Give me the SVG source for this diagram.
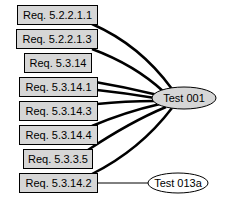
<svg xmlns="http://www.w3.org/2000/svg" width="228" height="201" viewBox="0 0 228 201">
<style>
.box{fill:#d6d6d6;stroke:#000;stroke-width:1}
.t{font-family:"Liberation Sans",Arial,sans-serif;font-size:11px;fill:#000;text-anchor:middle}
.e{fill:none;stroke:#000;stroke-width:2.5}
.e1{fill:none;stroke:#000;stroke-width:1}
</style>
<rect width="228" height="201" fill="#fff"/>
<g id="connectors">
<path class="e" d="M92,24 Q140,45 172,89"/>
<path class="e" d="M92,49 Q135,65 164,92"/>
<path class="e" d="M90,81 Q125,87 158,95"/>
<path class="e" d="M97,90 Q125,93 155,98"/>
<path class="e" d="M97,104 Q125,101 155,101"/>
<path class="e" d="M92,126 Q125,112 160,104"/>
<path class="e" d="M88,150 Q130,122 166,107"/>
<path class="e" d="M92,174 Q140,150 172,108"/>
<path class="e1" d="M97,183 L148,183"/>
</g>
<g id="r1"><rect class="box" x="17.5" y="5.5" width="80" height="19"/><text class="t" x="57.5" y="19">Req. 5.2.2.1.1</text></g>
<g id="r2"><rect class="box" x="16.5" y="29.5" width="81" height="19"/><text class="t" x="57" y="43">Req. 5.2.2.1.3</text></g>
<g id="r3"><rect class="box" x="24.5" y="53.5" width="67" height="19"/><text class="t" x="58" y="67">Req. 5.3.14</text></g>
<g id="r4"><rect class="box" x="19.5" y="77.5" width="78" height="19"/><text class="t" x="58.5" y="91">Req. 5.3.14.1</text></g>
<g id="r5"><rect class="box" x="19.5" y="101.5" width="78" height="19"/><text class="t" x="58.5" y="115">Req. 5.3.14.3</text></g>
<g id="r6"><rect class="box" x="19.5" y="125.5" width="78" height="19"/><text class="t" x="58.5" y="139">Req. 5.3.14.4</text></g>
<g id="r7"><rect class="box" x="23.5" y="149.5" width="69" height="19"/><text class="t" x="58" y="163">Req. 5.3.3.5</text></g>
<g id="r8"><rect class="box" x="19.5" y="173.5" width="78" height="19"/><text class="t" x="58.5" y="187">Req. 5.3.14.2</text></g>
<g id="t001"><ellipse cx="184" cy="98" rx="32" ry="11" fill="#d6d6d6" stroke="#000"/><text class="t" x="184" y="102">Test 001</text></g>
<g id="t013a"><ellipse cx="178" cy="183" rx="30" ry="10" fill="#fff" stroke="#000"/><text class="t" x="178" y="187">Test 013a</text></g>
</svg>
